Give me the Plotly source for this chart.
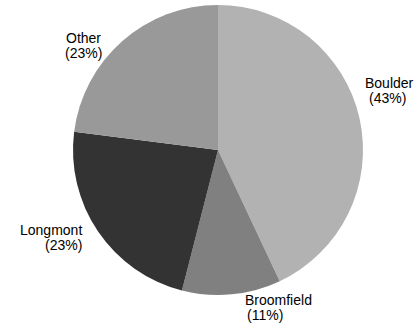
import plotly.graph_objects as go

labels = ["Boulder", "Broomfield", "Longmont", "Other"]
values = [43, 11, 23, 23]
colors = ["#b2b2b2", "#808080", "#333333", "#999999"]

W, H = 414, 323

fig = go.Figure(go.Pie(
    labels=labels,
    values=values,
    sort=False,
    direction="clockwise",
    rotation=0,
    marker=dict(colors=colors, line=dict(width=0)),
    textinfo="none",
    hoverinfo="label+percent",
    showlegend=False,
    domain=dict(x=[73 / W, 363 / W], y=[1 - 295 / H, 1 - 5 / H]),
))

# label placement (pixel positions) for name line and percent line
label_layout = {
    "Boulder":    dict(anchor="left",   name=(364, 83),  pct=(368, 98)),
    "Broomfield": dict(anchor="left",   name=(244, 300), pct=(246, 315)),
    "Longmont":   dict(anchor="right",  name=(83, 230),  pct=(83, 245)),
    "Other":      dict(anchor="center", name=(83, 38),   pct=(83, 53)),
}

total = sum(values)
font = dict(family="Liberation Sans, Arial, sans-serif", size=14, color="#000000")
annotations = []
for lab, val in zip(labels, values):
    spec = label_layout[lab]
    pct_text = f"({round(100 * val / total)}%)"
    for txt, (px, py) in ((lab, spec["name"]), (pct_text, spec["pct"])):
        annotations.append(dict(
            text=txt, x=px / W, y=1 - py / H, xref="paper", yref="paper",
            xanchor=spec["anchor"], yanchor="middle", showarrow=False,
            font=font, borderpad=0,
        ))

fig.update_layout(
    width=W, height=H,
    margin=dict(l=0, r=0, t=0, b=0),
    paper_bgcolor="white",
    plot_bgcolor="white",
    annotations=annotations,
)

fig.write_html(
    "out.html",
    config={"displayModeBar": False},
    post_script="document.body.style.margin='0';document.body.style.overflow='hidden';",
)
